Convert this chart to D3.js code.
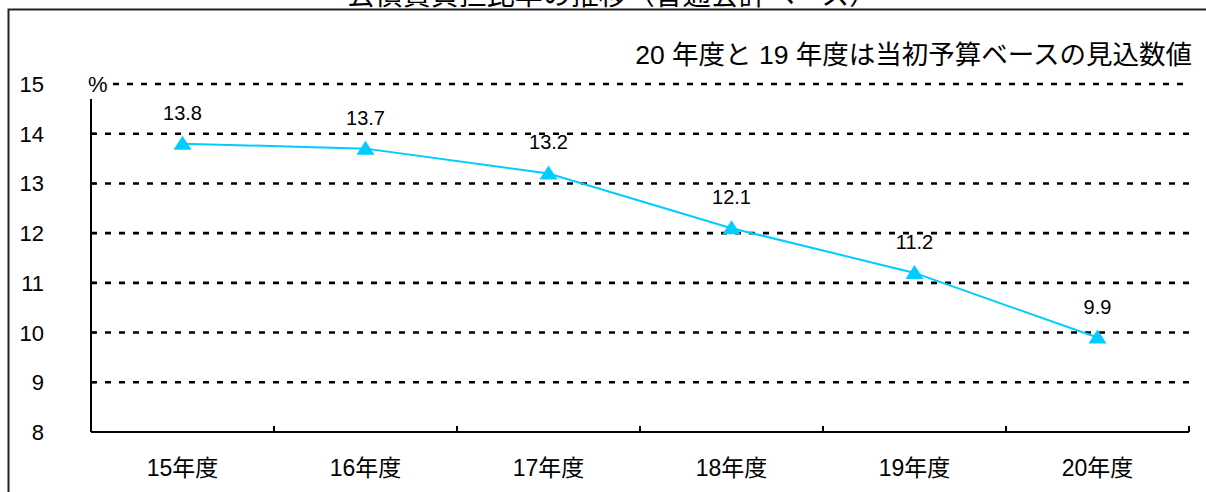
<!DOCTYPE html>
<html>
<head>
<meta charset="utf-8">
<script src="https://cdn.jsdelivr.net/npm/d3@7"></script>
<style>
body{margin:0;background:#fff;}
svg{display:block;font-family:Arial,"Liberation Sans","Noto Sans CJK JP",sans-serif;}
</style>
</head>
<body>
<div id="plot"></div>
<script>
// data
var years = ['15年度','16年度','17年度','18年度','19年度','20年度'];
var ratio = [13.8,13.7,13.2,12.1,11.2,9.9];
var yTicks = [8,9,10,11,12,13,14,15];
var title = '公債費負担比率の推移（普通会計ベース）';
var note = '20 年度と 19 年度は当初予算ベースの見込数値';

var W = 1206, H = 492;
var margin = {t:84,r:17,b:60,l:91};
var width = W-margin.l-margin.r,
	height = H-margin.t-margin.b;

var svg = d3.select('#plot').append('svg')
	.attr('width',W).attr('height',H);

// outer frame (runs off the right and bottom edges)
svg.append('rect')
	.attr('x',8.5).attr('y',9.5)
	.attr('width',W+20).attr('height',H+20)
	.attr('fill','none').attr('stroke','#222').attr('stroke-width',2);

// title, mostly clipped at the top like the source
svg.append('text')
	.attr('x',612).attr('y',5)
	.attr('text-anchor','middle')
	.attr('font-size',28)
	.text(title);

svg.append('text')
	.attr('x',1192).attr('y',64)
	.attr('text-anchor','end')
	.attr('font-size',26.5)
	.text(note);

var plot = svg.append('g')
	.attr('transform','translate('+margin.l+','+margin.t+')');

var x = d3.scaleBand().domain(years).range([0,width]);
var y = d3.scaleLinear().domain([8,15]).range([height,0]);

// dashed grid
plot.selectAll('.grid')
	.data(yTicks.filter(function(d){return d>8;}))
	.enter().append('line')
	.attr('x1',function(d){return d==15?22:0;}).attr('x2',width)
	.attr('y1',function(d){return y(d);}).attr('y2',function(d){return y(d);})
	.attr('stroke','#000').attr('stroke-width',2.6)
	.attr('stroke-dasharray','6,8');

// y axis line + small ticks
plot.append('line')
	.attr('x1',0).attr('x2',0)
	.attr('y1',y(15)+15).attr('y2',height)
	.attr('stroke','#000').attr('stroke-width',2);
plot.selectAll('.ytick')
	.data(yTicks.filter(function(d){return d<15;}))
	.enter().append('line')
	.attr('x1',0).attr('x2',5)
	.attr('y1',function(d){return y(d);}).attr('y2',function(d){return y(d);})
	.attr('stroke','#000').attr('stroke-width',2);

plot.selectAll('.ylab')
	.data(yTicks)
	.enter().append('text')
	.attr('x',-47).attr('y',function(d){return y(d)+8;})
	.attr('text-anchor','end')
	.attr('font-size',22)
	.text(function(d){return d;});

plot.append('text')
	.attr('x',-3).attr('y',y(15)+8)
	.attr('font-size',22)
	.text('%');

// x axis
plot.append('line')
	.attr('x1',0).attr('x2',width)
	.attr('y1',height).attr('y2',height)
	.attr('stroke','#000').attr('stroke-width',2);
plot.selectAll('.xtick')
	.data(years)
	.enter().append('line')
	.attr('x1',function(d){return x(d)+x.bandwidth();})
	.attr('x2',function(d){return x(d)+x.bandwidth();})
	.attr('y1',height-6).attr('y2',height)
	.attr('stroke','#000').attr('stroke-width',2);

plot.selectAll('.xlab')
	.data(years)
	.enter().append('text')
	.attr('x',function(d){return x(d)+x.bandwidth()/2;})
	.attr('y',height+44)
	.attr('text-anchor','middle')
	.attr('font-size',23)
	.text(function(d){return d;});

// line + markers
var cx = function(d,i){return x(years[i])+x.bandwidth()/2;};
var line = d3.line()
	.x(cx)
	.y(function(d){return y(d);});

plot.append('path')
	.datum(ratio)
	.attr('d',line)
	.attr('fill','none')
	.attr('stroke','#00ccff')
	.attr('stroke-width',2);

plot.selectAll('.mark')
	.data(ratio)
	.enter().append('path')
	.attr('d','M0,-8L9,6L-9,6Z')
	.attr('transform',function(d,i){return 'translate('+cx(d,i)+','+y(d)+')';})
	.attr('fill','#00ccff');

plot.selectAll('.vlab')
	.data(ratio)
	.enter().append('text')
	.attr('x',cx)
	.attr('y',function(d){return y(d)-24;})
	.attr('text-anchor','middle')
	.attr('font-size',20)
	.text(function(d){return d.toFixed(1);});
</script>
</body>
</html>
